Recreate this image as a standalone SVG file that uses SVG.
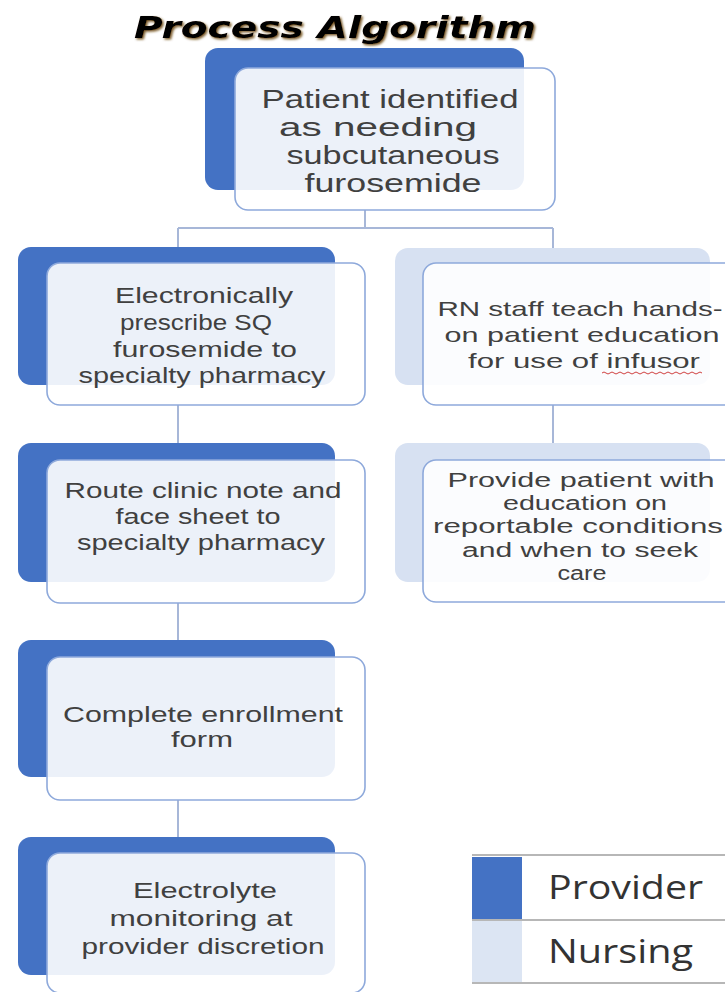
<svg xmlns="http://www.w3.org/2000/svg" width="725" height="992" viewBox="0 0 725 992">
<style>
.bgp{fill:#4472C4}
.bgn{fill:#D7E1F2}
.fr{fill:#FFFFFF;fill-opacity:0.9;stroke:#8EA9DB;stroke-width:1.6}
.t{font-family:"Liberation Sans","Open Sans",sans-serif;fill:#404040;text-anchor:middle}
.c{stroke:#A7B7D8;stroke-width:2;fill:none}
.lg{font-family:"Open Sans","Liberation Sans",sans-serif;fill:#333333}
</style>
<defs>
<filter id="sh" x="-10%" y="-30%" width="120%" height="160%">
<feDropShadow dx="1.5" dy="1.5" stdDeviation="1.2" flood-color="#6a4510" flood-opacity="0.9"/>
</filter>
</defs>
<rect width="725" height="992" fill="#FFFFFF"/>
<text x="335" y="38" font-family="DejaVu Sans,Verdana,sans-serif" font-weight="bold" font-style="italic" font-size="30" fill="#000" text-anchor="middle" textLength="402" lengthAdjust="spacingAndGlyphs" filter="url(#sh)">Process Algorithm</text>

<g id="connectors">
<path class="c" d="M365 210V228M178 228H553M178 228V263M553 228V263"/>
<path class="c" d="M178 405V460M178 603V657M178 800V853M553 405V460"/>
</g>

<g id="n-top">
<rect class="bgp" x="205" y="48" width="319" height="142" rx="13"/>
<rect class="fr" x="235" y="68" width="320" height="142" rx="13"/>
<text class="t" font-size="25"><tspan x="390" y="108" textLength="257" lengthAdjust="spacingAndGlyphs">Patient identified</tspan><tspan x="378" y="136" textLength="198" lengthAdjust="spacingAndGlyphs">as needing</tspan><tspan x="393" y="164" textLength="213" lengthAdjust="spacingAndGlyphs">subcutaneous</tspan><tspan x="393" y="192" textLength="177" lengthAdjust="spacingAndGlyphs">furosemide</tspan></text>
</g>

<g id="n-prescribe">
<rect class="bgp" x="18" y="247" width="317" height="138" rx="13"/>
<rect class="fr" x="47" y="263" width="318" height="142" rx="13"/>
<text class="t" font-size="22"><tspan x="204" y="303" textLength="178" lengthAdjust="spacingAndGlyphs">Electronically</tspan><tspan x="196" y="330" textLength="152" lengthAdjust="spacingAndGlyphs">prescribe SQ</tspan><tspan x="205" y="357" textLength="184" lengthAdjust="spacingAndGlyphs">furosemide to</tspan><tspan x="202" y="383" textLength="247" lengthAdjust="spacingAndGlyphs">specialty pharmacy</tspan></text>
</g>

<g id="n-route">
<rect class="bgp" x="18" y="443" width="317" height="139" rx="13"/>
<rect class="fr" x="47" y="460" width="318" height="143" rx="13"/>
<text class="t" font-size="22"><tspan x="203" y="498" textLength="277" lengthAdjust="spacingAndGlyphs">Route clinic note and</tspan><tspan x="198" y="524" textLength="165" lengthAdjust="spacingAndGlyphs">face sheet to</tspan><tspan x="201" y="550" textLength="248" lengthAdjust="spacingAndGlyphs">specialty pharmacy</tspan></text>
</g>

<g id="n-enroll">
<rect class="bgp" x="18" y="640" width="317" height="137" rx="13"/>
<rect class="fr" x="47" y="657" width="318" height="143" rx="13"/>
<text class="t" font-size="22"><tspan x="203" y="722" textLength="280" lengthAdjust="spacingAndGlyphs">Complete enrollment</tspan><tspan x="202" y="747" textLength="62" lengthAdjust="spacingAndGlyphs">form</tspan></text>
</g>

<g id="n-electrolyte">
<rect class="bgp" x="18" y="837" width="317" height="138" rx="13"/>
<rect class="fr" x="47" y="853" width="318" height="140" rx="13"/>
<text class="t" font-size="22"><tspan x="205" y="898" textLength="144" lengthAdjust="spacingAndGlyphs">Electrolyte</tspan><tspan x="201" y="926" textLength="183" lengthAdjust="spacingAndGlyphs">monitoring at</tspan><tspan x="203" y="954" textLength="243" lengthAdjust="spacingAndGlyphs">provider discretion</tspan></text>
</g>

<g id="n-rn">
<rect class="bgn" x="395" y="248" width="315" height="137" rx="13"/>
<rect class="fr" x="423" y="263" width="320" height="142" rx="13"/>
<text class="t" font-size="21"><tspan x="580" y="316" textLength="285" lengthAdjust="spacingAndGlyphs">RN staff teach hands-</tspan><tspan x="582" y="342" textLength="275" lengthAdjust="spacingAndGlyphs">on patient education</tspan><tspan x="584" y="368" textLength="232" lengthAdjust="spacingAndGlyphs">for use of infusor</tspan></text>
<path d="M602 373q2 -2 4 0t4 0t4 0t4 0t4 0t4 0t4 0t4 0t4 0t4 0t4 0t4 0t4 0t4 0t4 0t4 0t4 0t4 0t4 0t4 0t4 0t4 0t4 0t4 0t4 0" fill="none" stroke="#D04040" stroke-width="1"/>
</g>

<g id="n-provide">
<rect class="bgn" x="395" y="443" width="315" height="139" rx="13"/>
<rect class="fr" x="423" y="460" width="320" height="142" rx="13"/>
<text class="t" font-size="20"><tspan x="581" y="487" textLength="267" lengthAdjust="spacingAndGlyphs">Provide patient with</tspan><tspan x="585" y="510" textLength="164" lengthAdjust="spacingAndGlyphs">education on</tspan><tspan x="578" y="533" textLength="290" lengthAdjust="spacingAndGlyphs">reportable conditions</tspan><tspan x="580" y="557" textLength="236" lengthAdjust="spacingAndGlyphs">and when to seek</tspan><tspan x="582" y="580" textLength="49" lengthAdjust="spacingAndGlyphs">care</tspan></text>
</g>

<g id="legend">
<rect x="472" y="857" width="50" height="62" fill="#4472C4"/>
<rect x="472" y="921" width="50" height="61" fill="#DCE5F3"/>
<path d="M472 855H725M472 920H725M472 983H725" stroke="#A0A0A0" stroke-width="1.5"/>
<text class="lg" x="548" y="899" font-size="33" textLength="155" lengthAdjust="spacingAndGlyphs">Provider</text>
<text class="lg" x="548" y="963" font-size="33" textLength="145" lengthAdjust="spacingAndGlyphs">Nursing</text>
</g>
</svg>
